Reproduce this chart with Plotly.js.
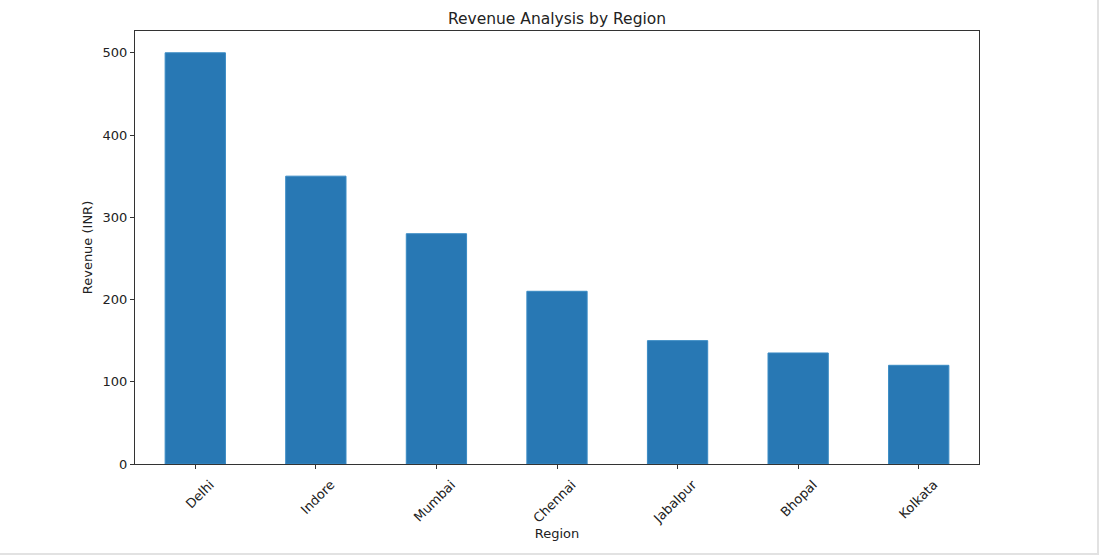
<!DOCTYPE html>
<html>
<head>
<meta charset="utf-8">
<script src="https://cdn.plot.ly/plotly-3.0.1.min.js"></script>
<style>
html,body{margin:0;padding:0;background:#fff;}
#frame{position:absolute;left:0;top:0;width:1097px;height:553px;border-right:2px solid #e2e2e2;border-bottom:2px solid #e2e2e2;box-sizing:content-box;}
#chart{position:absolute;left:0;top:0;width:1100px;height:558px;}
</style>
</head>
<body>
<div id="frame"></div>
<div id="chart"></div>
<script>
var regions = ["Delhi", "Indore", "Mumbai", "Chennai", "Jabalpur", "Bhopal", "Kolkata"];
var revenue = [500, 350, 280, 210, 150, 135, 120];
var yTicks = [0, 100, 200, 300, 400, 500];

var font = "DejaVu Sans, sans-serif";
var trace = {
  type: "bar",
  x: regions,
  y: revenue,
  width: 0.5,
  marker: {color: "#2878b4", line: {color: "#3a8bc4", width: 1}},
  hoverinfo: "x+y"
};
var layout = {
  width: 1100, height: 558,
  margin: {l: 135, r: 121, t: 31, b: 94},
  paper_bgcolor: "rgba(0,0,0,0)",
  plot_bgcolor: "#fff",
  showlegend: false,
  title: {text: "Revenue Analysis by Region", font: {family: font, size: 15.5, color: "#222"}, x: 0.5, xref: "paper", y: 0.967, yanchor: "middle"},
  xaxis: {
    type: "category",
    range: [-0.5, 6.5],
    showgrid: false, zeroline: false,
    showline: true, linecolor: "#333", linewidth: 1, mirror: true,
    ticks: "outside", ticklen: 4, tickcolor: "#333", tickwidth: 1,
    tickangle: -45, ticklabelshift: 15, ticklabelstandoff: 3,
    tickfont: {family: font, size: 13, color: "#222"},
    title: {text: "Region", font: {family: font, size: 13, color: "#222"}, standoff: 2}
  },
  yaxis: {
    range: [0, 526.5],
    tickvals: yTicks,
    showgrid: false, zeroline: false,
    showline: true, linecolor: "#333", linewidth: 1, mirror: true,
    ticks: "outside", ticklen: 4, tickcolor: "#333", tickwidth: 1,
    tickfont: {family: font, size: 13, color: "#222"},
    title: {text: "Revenue (INR)", font: {family: font, size: 13, color: "#222"}, standoff: 7}
  }
};
Plotly.newPlot("chart", [trace], layout, {displayModeBar: false, staticPlot: true});
</script>
</body>
</html>
